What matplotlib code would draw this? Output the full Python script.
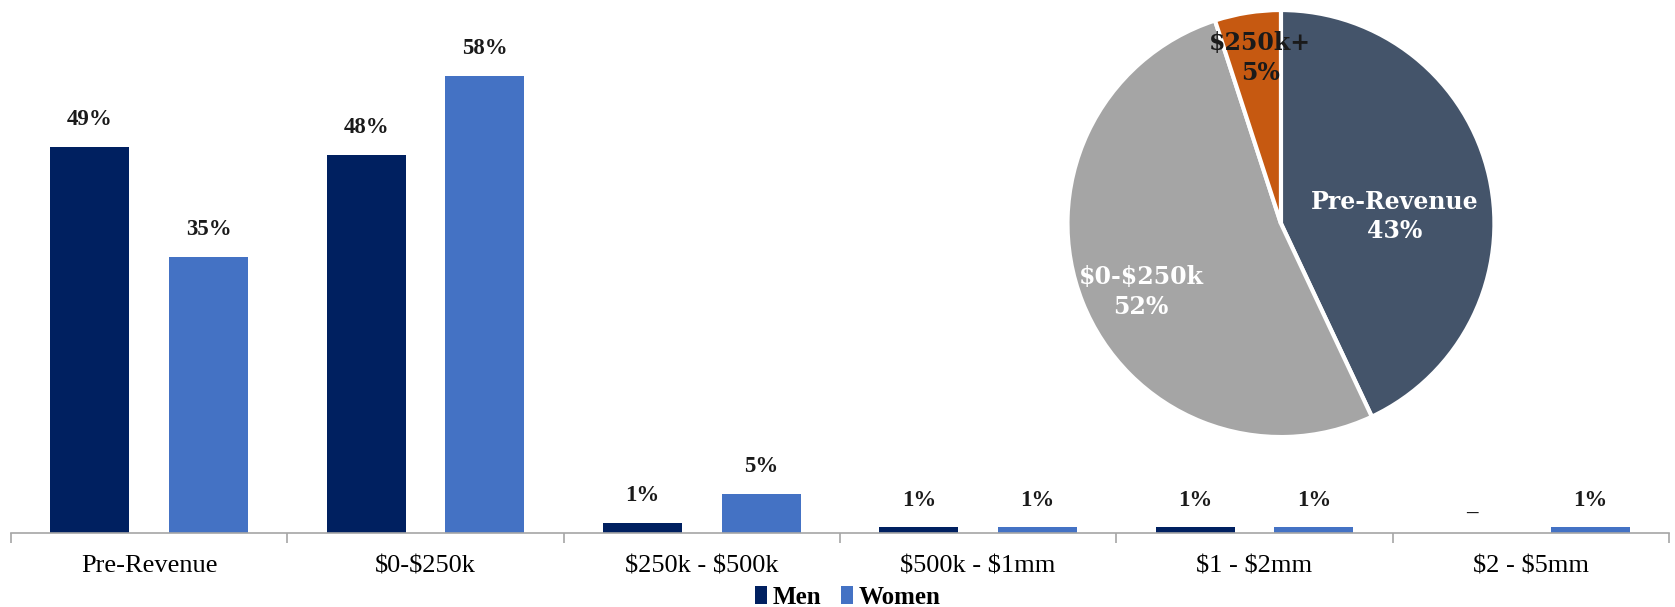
import numpy as np
import matplotlib
matplotlib.use("Agg")
import matplotlib.pyplot as plt

plt.rcParams["text.parse_math"] = False

# revenue stage by gender (bar chart)
categories = ["Pre-Revenue", "$0-$250k", "$250k - $500k", "$500k - $1mm", "$1 - $2mm", "$2 - $5mm"]
men = [49, 48, 1.3, 0.7, 0.7, 0]
women = [35, 58, 5, 0.7, 0.7, 0.7]

# overall split (pie inset)
pie_labels = ["Pre-Revenue", "$0-$250k", "$250k+"]
pie_values = [43, 52, 5]

MEN_COLOR = "#002060"
WOMEN_COLOR = "#4472C4"
PIE_COLORS = ["#44546A", "#A5A5A5", "#C65911"]
PIE_TEXT = ["white", "white", "#1a1a1a"]
PIE_DIST = [0.535, 0.73, 0.78]
PIE_ANGLE_SHIFT = [-9.1, 4.6, -1.8]

SERIF = "Liberation Serif"


def fmt(v):
    if v == 0:
        return "_"
    return "%d%%" % round(v)


def plot_bars(fig):
    ax = fig.add_axes([0.0066, 0.1219, 0.9898, 0.8781])
    x = np.arange(len(categories))
    w = 0.286
    off = 0.215
    b1 = ax.bar(x - off, men, w, color=MEN_COLOR, label="Men")
    b2 = ax.bar(x + off, women, w, color=WOMEN_COLOR, label="Women")

    for bars, vals in ((b1, men), (b2, women)):
        for b, v in zip(bars, vals):
            ax.annotate(fmt(v), (b.get_x() + b.get_width() / 2, v),
                        xytext=(0, 12), textcoords="offset points",
                        ha="center", va="bottom", fontsize=16.5,
                        fontweight="bold", family=SERIF, color="#1a1a1a")

    ax.set_xlim(-0.5, len(categories) - 0.5)
    ax.set_ylim(0, 67.6)
    ax.set_yticks([])
    for s in ("top", "right", "left"):
        ax.spines[s].set_visible(False)
    ax.spines["bottom"].set_color("#A6A6A6")
    ax.spines["bottom"].set_linewidth(1.2)

    ax.set_xticks(x)
    ax.set_xticklabels(categories, family=SERIF, fontsize=19)
    ax.tick_params(axis="x", which="major", length=0, pad=16)
    ax.set_xticks(np.arange(len(categories) + 1) - 0.5, minor=True)
    ax.tick_params(axis="x", which="minor", length=7, color="#A6A6A6", width=1.2)

    fig.legend(handles=[b1, b2], loc="center", bbox_to_anchor=(0.506, 0.016),
               ncol=2, frameon=False, handlelength=0.5, handleheight=0.7,
               handletextpad=0.2, columnspacing=0.8,
               prop={"family": SERIF, "weight": "bold", "size": 18})


def plot_pie(fig):
    ax = fig.add_axes([0.6373, 0.280, 0.2549, 0.7035])
    wedges, _ = ax.pie(pie_values, colors=PIE_COLORS, startangle=90,
                       counterclock=False,
                       wedgeprops={"edgecolor": "white", "linewidth": 3})
    for i, wd in enumerate(wedges):
        ang = np.deg2rad((wd.theta1 + wd.theta2) / 2 + PIE_ANGLE_SHIFT[i])
        r = PIE_DIST[i]
        ax.text(r * np.cos(ang), r * np.sin(ang),
                "%s\n%d%%" % (pie_labels[i], pie_values[i]),
                ha="center", va="center", color=PIE_TEXT[i],
                fontsize=17, fontweight="bold", family="DejaVu Serif",
                linespacing=1.3)
    ax.set_aspect("auto")
    ax.set_xlim(-1.0, 1.0)
    ax.set_ylim(-1.0, 1.0)


def main():
    fig = plt.figure(figsize=(16.75, 6.07), dpi=100)
    plot_bars(fig)
    plot_pie(fig)
    fig.savefig("out.png", dpi=100)


main()
